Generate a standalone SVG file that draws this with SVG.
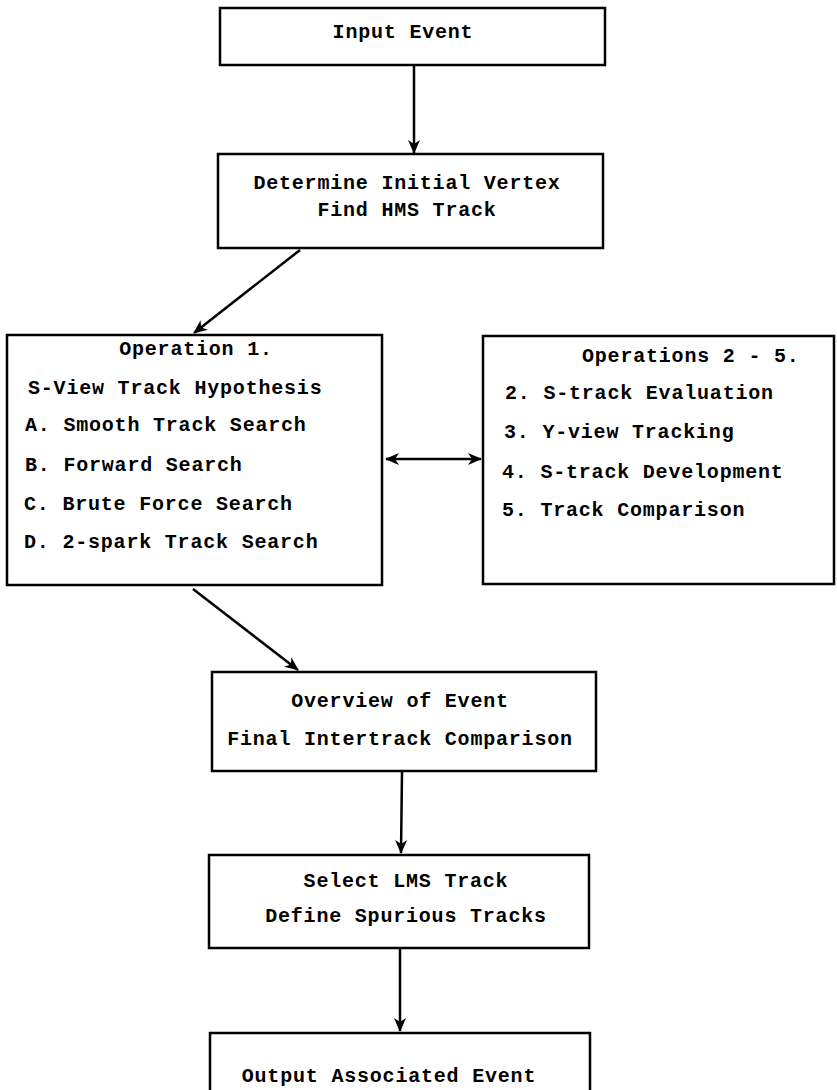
<svg xmlns="http://www.w3.org/2000/svg" width="837" height="1090" viewBox="0 0 837 1090">
<style>
.box{fill:#fff;stroke:#000;stroke-width:2.5}
.t{font-family:"Liberation Mono","DejaVu Sans Mono",monospace;font-weight:bold;font-size:20px;letter-spacing:0.8px;fill:#000}
.c{text-anchor:middle}
.con{fill:none;stroke:#000;stroke-width:2.5}
</style>
<defs>
<marker id="ah" viewBox="0 0 14 14" refX="13" refY="7" markerWidth="14" markerHeight="14" markerUnits="userSpaceOnUse" orient="auto-start-reverse">
<path d="M0,1 L14,7 L0,13 L4,7 Z" fill="#000"/>
</marker>
</defs>
<rect width="837" height="1090" fill="#fff"/>
<g id="connectors">
<line class="con" x1="414" y1="66" x2="414" y2="153" marker-end="url(#ah)"/>
<line class="con" x1="300" y1="250" x2="194" y2="333" marker-end="url(#ah)"/>
<line class="con" x1="386" y1="459" x2="481" y2="459" marker-start="url(#ah)" marker-end="url(#ah)"/>
<line class="con" x1="193" y1="589" x2="298" y2="670" marker-end="url(#ah)"/>
<line class="con" x1="402" y1="772" x2="401" y2="853" marker-end="url(#ah)"/>
<line class="con" x1="400" y1="949" x2="400" y2="1031" marker-end="url(#ah)"/>
</g>
<g id="input-event">
<rect class="box" x="220" y="8" width="385" height="57"/>
<text class="t c" x="403" y="38">Input Event</text>
</g>
<g id="determine-vertex">
<rect class="box" x="218" y="154" width="385" height="94"/>
<text class="t c" x="407" y="189">Determine Initial Vertex</text>
<text class="t c" x="407" y="216">Find HMS Track</text>
</g>
<g id="operation-1">
<rect class="box" x="7" y="335" width="375" height="250"/>
<text class="t c" x="196" y="355">Operation 1.</text>
<text class="t" x="28" y="394">S-View Track Hypothesis</text>
<text class="t" x="25" y="431">A. Smooth Track Search</text>
<text class="t" x="25" y="471">B. Forward Search</text>
<text class="t" x="24" y="510">C. Brute Force Search</text>
<text class="t" x="24" y="548">D. 2-spark Track Search</text>
</g>
<g id="operations-2-5">
<rect class="box" x="483" y="336" width="351" height="248"/>
<text class="t" x="582" y="362">Operations 2 - 5.</text>
<text class="t" x="505" y="399">2. S-track Evaluation</text>
<text class="t" x="504" y="438">3. Y-view Tracking</text>
<text class="t" x="502" y="478">4. S-track Development</text>
<text class="t" x="502" y="516">5. Track Comparison</text>
</g>
<g id="overview">
<rect class="box" x="212" y="672" width="384" height="99"/>
<text class="t c" x="400" y="707">Overview of Event</text>
<text class="t c" x="400" y="745">Final Intertrack Comparison</text>
</g>
<g id="select-lms">
<rect class="box" x="209" y="855" width="380" height="93"/>
<text class="t c" x="406" y="887">Select LMS Track</text>
<text class="t c" x="406" y="922">Define Spurious Tracks</text>
</g>
<g id="output-event">
<rect class="box" x="210" y="1033" width="380" height="70"/>
<text class="t c" x="389" y="1082">Output Associated Event</text>
</g>
</svg>
